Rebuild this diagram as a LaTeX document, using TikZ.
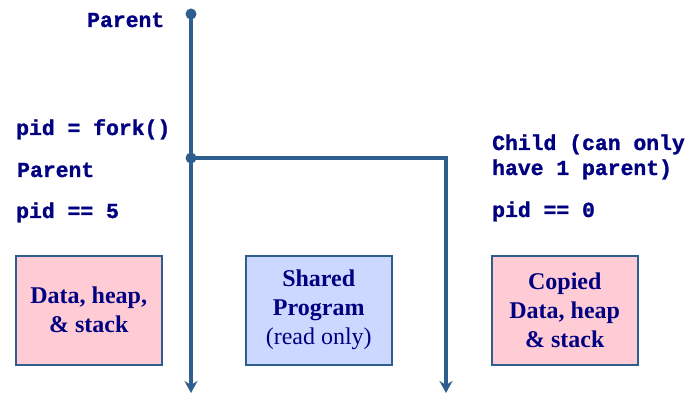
\documentclass[tikz,border=0pt]{standalone}
\usepackage{fontspec}
\setmainfont{Liberation Serif}
\setmonofont{Liberation Mono}[BoldFeatures={FakeBold=1.2}]
\usetikzlibrary{arrows.meta}
\definecolor{linec}{HTML}{2E5E8E}
\definecolor{txtc}{HTML}{000080}
\definecolor{pinkf}{HTML}{FFCCD6}
\definecolor{bluef}{HTML}{CCD8FF}
\begin{document}
\begin{tikzpicture}[x=1pt,y=-1pt,
  lbl/.style={anchor=base west,inner sep=0pt,text=txtc,font=\ttfamily\bfseries\fontsize{21.4}{25}\selectfont},
  membox/.style={draw=linec,line width=1.5pt,minimum width=146pt,minimum height=109pt,inner sep=0pt,anchor=north west,align=center,text=txtc,font=\fontsize{24}{29}\selectfont},
  flow/.style={draw=linec,line width=3.5pt},
  dotc/.style={circle,fill=linec,inner sep=0pt,minimum size=11pt},
  flowarrow/.style={arrows={-Stealth[length=12pt,width=13pt,inset=4pt]}}
]
\useasboundingbox (0,0) rectangle (694,393);
\node[dotc] (start) at (191,14) {};
\node[dotc] (fork) at (191,158) {};
\coordinate (corner) at (446,158);
\coordinate (pend) at (191,393);
\coordinate (cend) at (446,393);
\draw[flow] (start.center) -- (fork.center);
\draw[flow,flowarrow] (fork.center) -- (pend);
\draw[flow,flowarrow] (fork.center) -- (corner) -- (cend);

\node[lbl] (t1) at (87,27) {Parent};
\node[lbl] (t2) at (16,135) {pid = fork()};
\node[lbl] (t3) at (17,177) {Parent};
\node[lbl] (t4) at (16,218) {pid == 5};
\node[lbl] (t5) at (492,150) {Child (can only};
\node[lbl] (t6) at (492,175) {have 1 parent)};
\node[lbl] (t7) at (492,217) {pid == 0};

\node[membox,fill=pinkf] (b1) at (15,255) {\bfseries Data, heap,\\\bfseries\& stack};
\node[membox,fill=bluef] (b2) at (245,255) {\bfseries Shared\\\bfseries Program\\(read only)};
\node[membox,fill=pinkf] (b3) at (491,255) {\bfseries Copied\\\bfseries Data, heap\\\bfseries\& stack};
\end{tikzpicture}
\end{document}
